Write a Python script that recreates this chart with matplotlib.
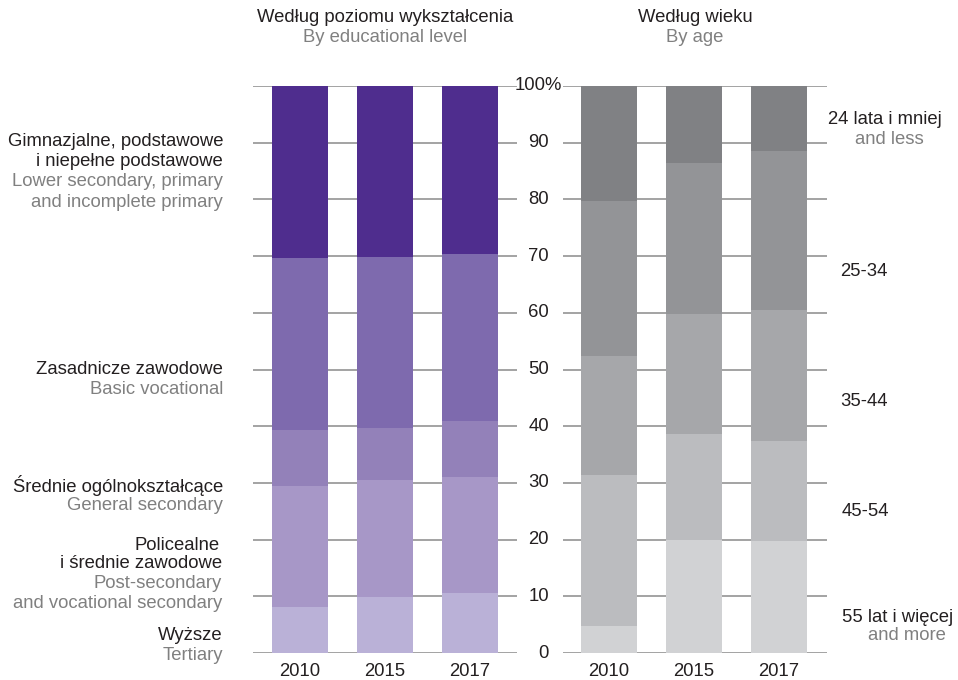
import matplotlib
matplotlib.use("Agg")
import matplotlib.pyplot as plt
import numpy as np

plt.rcParams['font.family'] = ['Liberation Sans', 'DejaVu Sans']

years = ['2010', '2015', '2017']

# By educational level (bottom -> top), %
edu_tertiary = [8.2, 9.8, 10.5]
edu_postsec = [21.3, 20.7, 20.6]
edu_general = [9.8, 9.1, 9.8]
edu_basic = [30.4, 30.2, 29.4]
edu_lower = [30.3, 30.2, 29.7]

# By age (bottom -> top), %
age_55plus = [4.7, 19.9, 19.7]
age_45_54 = [26.7, 18.7, 17.7]
age_35_44 = [21.0, 21.2, 23.1]
age_25_34 = [27.4, 26.6, 28.0]
age_24less = [20.2, 13.6, 11.5]

yticks = [0, 10, 20, 30, 40, 50, 60, 70, 80, 90, 100]
ytick_labels = ['0', '10', '20', '30', '40', '50', '60', '70', '80', '90', '100%']

edu_colors = ['#BAB1D7', '#A797C7', '#9381B9', '#7E6AAE', '#4F2D8E']
age_colors = ['#D1D2D4', '#BBBCBF', '#A6A7AA', '#939497', '#808184']

W, H = 958, 680
fig = plt.figure(figsize=(W / 100, H / 100), dpi=100)

def axrect(x0, x1, ytop, ybot):
    return [x0 / W, 1 - ybot / H, (x1 - x0) / W, (ybot - ytop) / H]

ax1 = fig.add_axes(axrect(253, 517, 86, 653))
ax2 = fig.add_axes(axrect(563, 827, 86, 653))

grid_c = '#8A8A8A'
bw = 0.66
x = np.arange(3)

for ax, series, cols, lo, hi in [
    (ax1, [edu_tertiary, edu_postsec, edu_general, edu_basic, edu_lower], edu_colors, -0.553, 2.553),
    (ax2, [age_55plus, age_45_54, age_35_44, age_25_34, age_24less], age_colors, -0.541, 2.565),
]:
    bottom = np.zeros(3)
    for vals, c in zip(series, cols):
        ax.bar(x, vals, bw, bottom=bottom, color=c, edgecolor='none', zorder=3)
        bottom += np.array(vals)
    for tk in yticks:
        ax.axhline(tk, color=grid_c, lw=1.1, zorder=1)
    ax.set_xlim(lo, hi)
    ax.set_ylim(0, 100)
    ax.set_xticks(x)
    ax.set_xticklabels(years, fontsize=13.3, color='#231F20')
    ax.tick_params(axis='x', length=0, pad=7)
    ax.set_yticks([])
    for s in ax.spines.values():
        s.set_visible(False)
    ax.patch.set_alpha(0)

# shared y tick labels between panels (placed on ax2's data scale)
from matplotlib.transforms import blended_transform_factory
tr = blended_transform_factory(fig.transFigure, ax2.transData)
for tk, lab in zip(yticks, ytick_labels):
    if lab.endswith('%'):
        fig.text(515 / W, tk, lab, ha='left', va='center', transform=tr,
                 fontsize=13.3, color='#231F20')
    else:
        fig.text(549 / W, tk, lab, ha='right', va='center', transform=tr,
                 fontsize=13.3, color='#231F20')

dark = '#231F20'
grey = '#808080'
fs = 13.3

def t(px, py, s, c=dark, ha='right'):
    fig.text(px / W, 1 - py / H, s, ha=ha, va='center', fontsize=fs, color=c)

# titles
t(385, 17, 'Według poziomu wykształcenia', dark, 'center')
t(385, 38, 'By educational level', grey, 'center')
t(695, 17, 'Według wieku', dark, 'center')
t(695, 38, 'By age', grey, 'center')

# left labels
t(223, 142, 'Gimnazjalne, podstawowe')
t(223, 162, 'i niepełne podstawowe')
t(223, 182, 'Lower secondary, primary', grey)
t(223, 202, 'and incomplete primary', grey)
t(223, 370, 'Zasadnicze zawodowe')
t(223, 390, 'Basic vocational', grey)
t(223, 486, 'Średnie ogólnokształcące')
t(223, 506, 'General secondary', grey)
t(220, 545, 'Policealne')
t(222, 564, 'i średnie zawodowe')
t(222, 584, 'Post-secondary', grey)
t(222, 604, 'and vocational secondary', grey)
t(223, 636, 'Wyższe')
t(223, 655, 'Tertiary', grey)

# right labels
t(828, 120, '24 lata i mniej', dark, 'left')
t(855, 140, 'and less', grey, 'left')
t(840, 271, '25-34', dark, 'left')
t(840, 402, '35-44', dark, 'left')
t(842, 512, '45-54', dark, 'left')
t(842, 617, '55 lat i więcej', dark, 'left')
t(868, 636, 'and more', grey, 'left')

fig.savefig('out.png', dpi=100, facecolor='white')
